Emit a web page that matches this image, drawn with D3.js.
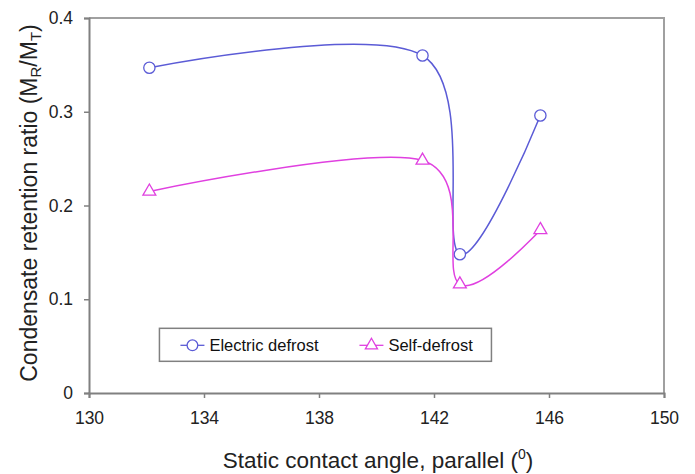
<!DOCTYPE html>
<html>
<head>
<meta charset="utf-8">
<script src="https://cdn.jsdelivr.net/npm/d3@7"></script>
<style>
  body { margin: 0; background: #fff; }
  svg { font-family: "Liberation Sans", Arial, sans-serif; }
</style>
</head>
<body>
<div id="chart"></div>
<script>
const angles = [132.1, 141.6, 142.9, 145.7];
const electric = [0.347, 0.360, 0.148, 0.296];
const selfDefrost = [0.215, 0.248, 0.116, 0.174];
const xTicks = [130, 134, 138, 142, 146, 150];
const yTicks = [0, 0.1, 0.2, 0.3, 0.4];

const series = [
  { name: "Electric defrost", values: electric, color: "#5b5bd6", symbol: d3.symbolCircle },
  { name: "Self-defrost", values: selfDefrost, color: "#e040e0", symbol: d3.symbolTriangle }
];

const width = 695, height = 474;
const margin = { top: 18, right: 31, bottom: 81, left: 89 };
const innerW = width - margin.left - margin.right;
const innerH = height - margin.top - margin.bottom;

const svg = d3.select("#chart").append("svg")
  .attr("width", width).attr("height", height);

const g = svg.append("g")
  .attr("transform", `translate(${margin.left},${margin.top})`);

const x = d3.scaleLinear().domain([130, 150]).range([0, innerW]);
const y = d3.scaleLinear().domain([0, 0.4]).range([innerH, 0]);

// cadre haut/droite
g.append("path")
  .attr("d", `M0,0H${innerW}V${innerH}`)
  .attr("fill", "none").attr("stroke", "#a0a0a0").attr("stroke-width", 2);

const axX = g.append("g")
  .attr("transform", `translate(0,${innerH})`)
  .call(d3.axisBottom(x).tickValues(xTicks).tickSize(5).tickPadding(14).tickFormat(d3.format("d")));
const axY = g.append("g")
  .call(d3.axisLeft(y).tickValues(yTicks).tickSize(5).tickPadding(11).tickFormat(d => d === 0 ? "0" : d3.format(".1f")(d)));

[axX, axY].forEach(a => {
  a.select(".domain").attr("stroke", "#808080").attr("stroke-width", 2);
  a.selectAll(".tick line").attr("stroke", "#808080").attr("stroke-width", 1.5);
  a.selectAll(".tick text").style("font-size", "17.5px").attr("fill", "#222");
});

// courbes lissées
const line = d3.line()
  .x((d, i) => x(angles[i]))
  .y(d => y(d))
  .curve(d3.curveCardinal.tension(0));

series.forEach(s => {
  g.append("path")
    .datum(s.values)
    .attr("d", line)
    .attr("fill", "none")
    .attr("stroke", s.color)
    .attr("stroke-width", 1.5);

  g.selectAll(null)
    .data(s.values)
    .join("path")
    .attr("transform", (d, i) => `translate(${x(angles[i])},${y(d)})`)
    .attr("d", d3.symbol().type(s.symbol).size(s.symbol === d3.symbolCircle ? 100 : 72))
    .attr("fill", "#fff")
    .attr("stroke", s.color)
    .attr("stroke-width", 1.3);
});

// légende
const leg = g.append("g").attr("transform", `translate(${x(132.45)},${y(0.069)})`);
leg.append("rect")
  .attr("width", 332).attr("height", 33)
  .attr("fill", "#fff").attr("stroke", "#808080").attr("stroke-width", 1.5);

const legX = [21, 200];
series.forEach((s, i) => {
  const lg = leg.append("g").attr("transform", `translate(${legX[i]},17)`);
  lg.append("line").attr("x1", 0).attr("x2", 24)
    .attr("stroke", s.color).attr("stroke-width", 1.3);
  lg.append("path")
    .attr("transform", "translate(12,0)")
    .attr("d", d3.symbol().type(s.symbol).size(s.symbol === d3.symbolCircle ? 90 : 64))
    .attr("fill", "#fff").attr("stroke", s.color).attr("stroke-width", 1.3);
  lg.append("text").attr("x", 29).attr("dy", "0.35em")
    .style("font-size", "16.5px").attr("fill", "#111").text(s.name);
});

// titres des axes
const xt = svg.append("text")
  .attr("x", 378).attr("y", 468)
  .attr("text-anchor", "middle").style("font-size", "22.5px").attr("fill", "#222");
xt.append("tspan").text("Static contact angle, parallel (");
xt.append("tspan").attr("dy", -9).style("font-size", "14px").text("0");
xt.append("tspan").attr("dy", 9).text(")");

const yt = svg.append("text")
  .attr("transform", `translate(37,203) rotate(-90)`)
  .attr("text-anchor", "middle").style("font-size", "23px").attr("fill", "#222");
yt.append("tspan").text("Condensate retention ratio (M");
yt.append("tspan").attr("dy", 4).style("font-size", "15px").text("R");
yt.append("tspan").attr("dy", -4).text("/M");
yt.append("tspan").attr("dy", 4).style("font-size", "15px").text("T");
yt.append("tspan").attr("dy", -4).text(")");
</script>
</body>
</html>
